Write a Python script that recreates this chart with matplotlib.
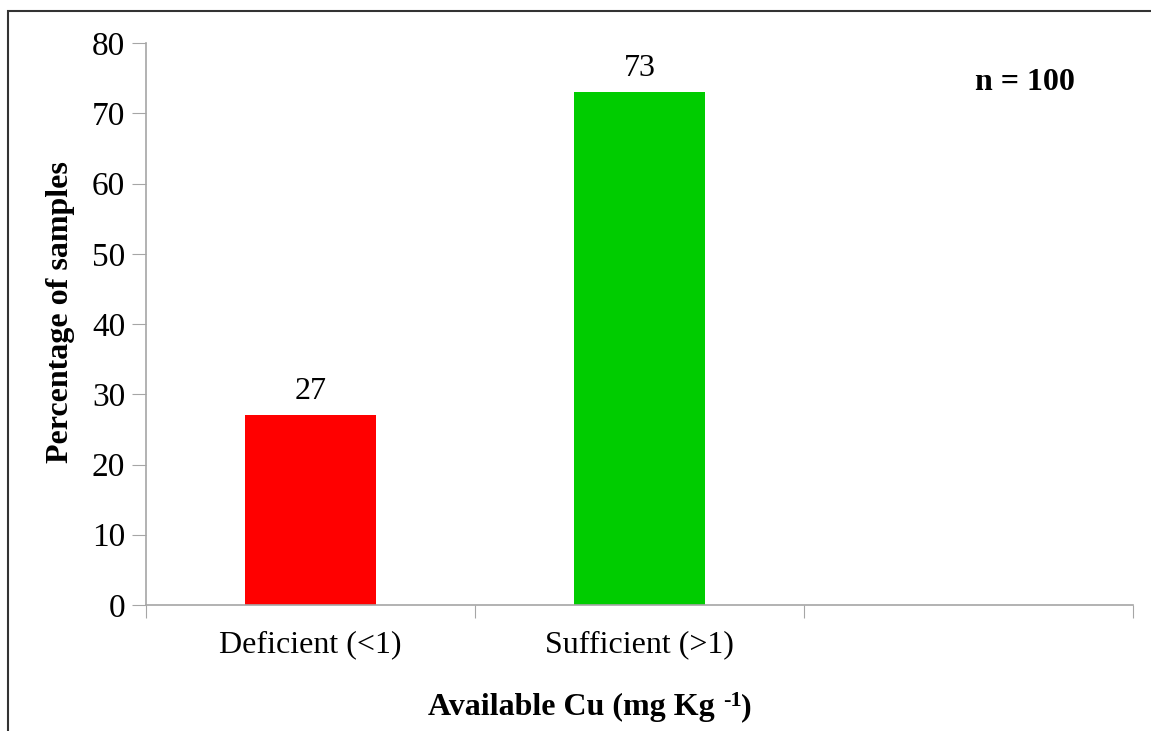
import matplotlib
matplotlib.use("Agg")
import matplotlib.pyplot as plt
import matplotlib.patches as mpatches
import numpy as np

categories = ["Deficient (<1)", "Sufficient (>1)", ""]
percentages = [27, 73]
bar_colors = ["#ff0000", "#00cc00"]
y_ticks = [0, 10, 20, 30, 40, 50, 60, 70, 80]

plt.rcParams['font.family'] = ['Liberation Serif', 'DejaVu Serif']

W, H = 1151, 731
fig = plt.figure(figsize=(W / 100, H / 100), dpi=100)
ax = fig.add_axes([146 / W, 1 - 605 / H, (1133 - 146) / W, (605 - 43) / H])

x = np.arange(len(percentages))
bars = ax.bar(x, percentages, width=0.4, color=bar_colors)
for b, v in zip(bars, percentages):
    ax.text(b.get_x() + b.get_width() / 2, v + 1.3, str(v), ha='center', va='bottom', fontsize=23)

ax.set_xlim(-0.5, 2.5)
ax.set_ylim(0, 80)
ax.set_yticks(y_ticks)
ax.tick_params(axis='y', labelsize=24, length=10, color='#a6a6a6', direction='out', pad=5)

# category labels between boundary ticks
ax.set_xticks([-0.5, 0.5, 1.5, 2.5])
ax.set_xticklabels([])
ax.set_xticks(np.arange(len(categories)), minor=True)
ax.set_xticklabels(categories, minor=True, fontsize=23)
ax.tick_params(axis='x', which='major', length=9, color='#a6a6a6')
ax.tick_params(axis='x', which='minor', length=0, pad=18)

for s in ['top', 'right']:
    ax.spines[s].set_visible(False)
for s in ['left', 'bottom']:
    ax.spines[s].set_color('#a6a6a6')
    ax.spines[s].set_linewidth(1.2)

ax.set_ylabel("Percentage of samples", fontsize=23, fontweight='bold')
ax.yaxis.set_label_coords(-0.072, 0.521)

ax.text(1025, H - 83, "n = 100", transform=None, ha='center', va='center',
        fontsize=23, fontweight='bold')

# x label with a raised "-1"
fig.canvas.draw()
renderer = fig.canvas.get_renderer()
parts = [("Available Cu (mg Kg ", 23, 0), ("-1", 16, 9), (")", 23, 0)]
widths = []
for s, fs, dy in parts:
    t = fig.text(0, 0, s, fontsize=fs, fontweight='bold')
    widths.append(t.get_window_extent(renderer).width)
    t.remove()
xpos = 590 - sum(widths) / 2
for (s, fs, dy), w in zip(parts, widths):
    fig.text(xpos / W, 1 - (715 - dy) / H, s, fontsize=fs, fontweight='bold', va='baseline')
    xpos += w

# outer border (left and top edges visible)
fig.patches.append(mpatches.Rectangle((8 / W, -0.1), 1.2, 1 - 11 / H + 0.1,
                                      transform=fig.transFigure, fill=False,
                                      edgecolor='#333333', linewidth=1.5))

fig.savefig("out.png", dpi=100)
